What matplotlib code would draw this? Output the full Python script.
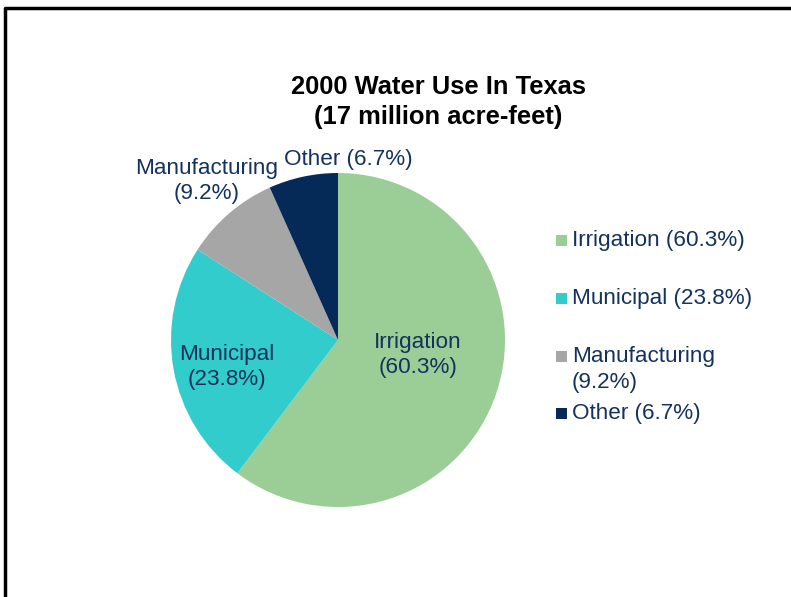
import matplotlib.pyplot as plt
import matplotlib.patches as mpatches
import matplotlib.lines as mlines

# water use by sector, percent of 17 million acre-feet
sectors = ["Irrigation", "Municipal", "Manufacturing", "Other"]
shares = [60.3, 23.8, 9.2, 6.7]
colors = ["#9bcd97", "#33cccc", "#a6a6a6", "#062a57"]
title = "2000 Water Use In Texas\n(17 million acre-feet)"

text_color = "#14325e"
plt.rcParams["font.family"] = ["Liberation Sans", "DejaVu Sans"]

W, H = 791, 597
fig = plt.figure(figsize=(W / 100, H / 100), dpi=100)


def px(x, y):
    # pixel position (from top-left) to figure fraction
    return x / W, 1 - y / H


# pie centred at (338, 340) px, radius 167 px
cx, cy, r = 338, 340, 167
ax = fig.add_axes([(cx - r) / W, 1 - (cy + r) / H, 2 * r / W, 2 * r / H])
ax.pie(shares, colors=colors, startangle=90, counterclock=False,
       wedgeprops=dict(linewidth=0))
ax.set_xlim(-1, 1)
ax.set_ylim(-1, 1)
ax.set_aspect("equal")
ax.axis("off")

fig.text(*px(438, 102), title, ha="center", va="center", fontsize=18.4,
         fontweight="bold", color="black", linespacing=1.33)

# slice labels
labels = ["{}\n({}%)".format(s, v) for s, v in zip(sectors, shares)]
label_pos = [(418, 355), (227, 367), (207, 181), (348, 160)]
for i, (lab, (x, y)) in enumerate(zip(labels, label_pos)):
    if sectors[i] == "Other":
        lab = lab.replace("\n", " ")
    fig.text(*px(x, y), lab, ha="center", va="center", fontsize=16.2,
             color=text_color, linespacing=1.3)

# legend drawn by hand so the square sits beside the first line
legend_y = [241, 299, 357, 414]
for sec, val, col, y in zip(sectors, shares, colors, legend_y):
    x0, y0 = px(556, y + 5)
    fig.patches.append(mpatches.Rectangle((x0, y0), 11 / W, 11 / H,
                                          transform=fig.transFigure,
                                          facecolor=col, edgecolor="none"))
    if sec == "Manufacturing":
        txt = "{}\n({}%)".format(sec, val)
    else:
        txt = "{} ({}%)".format(sec, val)
    fig.text(*px(572, y - 11), txt, ha="left", va="top", fontsize=16.2,
             color=text_color, linespacing=1.3)

# frame: only the left and top edges fall inside the image
fig.lines.append(mlines.Line2D([5 / W, 5 / W, 1], [0, 1 - 8 / H, 1 - 8 / H],
                               transform=fig.transFigure, color="black",
                               linewidth=2.5))

fig.savefig("out.png", dpi=100)
